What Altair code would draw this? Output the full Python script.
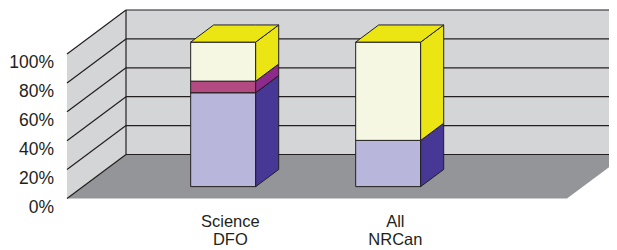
import altair as alt
import pandas as pd

# ---- data ----
categories_line1 = ["Science", "All"]
categories_line2 = ["DFO", "NRCan"]
series_names = ["Series A", "Series B", "Series C"]
series_a = [65, 32]   # lavender (bottom)
series_b = [8, 0]     # magenta (middle)
series_c = [27, 68]   # cream (top)
tick_values = [0, 20, 40, 60, 80, 100]
tick_labels = ["0%", "20%", "40%", "60%", "80%", "100%"]

front_colors = ["#b9b6db", "#b34a82", "#f6f7e2"]
side_colors = ["#463894", "#8e2a8c", "#ebe613"]
top_color = "#ebe613"

# ---- geometry (projection of the 3-D look) ----
PX_Y = 1.445          # px per percent
PX_X = 165.0          # px per category unit
DX = 59 / PX_X        # depth offset in x units
DY = 44 / PX_Y        # depth offset in y units
F_DEPTH, B_DEPTH = 0.27, 0.66
HALF_W = 0.197
CENTERS = [0.85, 1.85]
FLOOR_LEN = 3.03
WALL_RIGHT = 3.4

W, H = 601, 242
x_dom = [(8 - 67) / PX_X, (609 - 67) / PX_X]
y_dom = [(198.5 - 250) / PX_Y, (198.5 - 8) / PX_Y]

xs = alt.Scale(domain=x_dom, nice=False, zero=False)
ys = alt.Scale(domain=y_dom, nice=False, zero=False)

def vquad(rows, key, color, xa, ya0, ya1, xb, yb0, yb1):
    rows.append(dict(k=key, x=xa, y=ya0, y2=ya1, c=color))
    rows.append(dict(k=key, x=xb, y=yb0, y2=yb1, c=color))

# walls and floor
wall_rows = []
vquad(wall_rows, "a0", "#d4d5d7", DX, DY, 100 + DY, WALL_RIGHT, DY, 100 + DY)
vquad(wall_rows, "a1", "#d4d5d7", 0, 0, 100, DX, DY, 100 + DY)
for x, y, y2 in [(0, 0, 0), (DX, 0, DY), (FLOOR_LEN, 0, DY), (FLOOR_LEN + DX, DY, DY)]:
    wall_rows.append(dict(k="a2", x=x, y=y, y2=y2, c="#939598"))
walls = pd.DataFrame(wall_rows)

# gridlines
grid_rows = []
for v in tick_values:
    grid_rows.append(dict(x=0, y=v, x2=DX, y2=v + DY))
    grid_rows.append(dict(x=DX, y=v + DY, x2=WALL_RIGHT, y2=v + DY))
grid_rows.append(dict(x=DX, y=DY, x2=DX, y2=100 + DY))
grid = pd.DataFrame(grid_rows)

# bars
bar_rows = []
n = 0
for ci, cx in enumerate(CENTERS):
    vals = [series_a[ci], series_b[ci], series_c[ci]]
    u0, u1 = cx - HALF_W, cx + HALF_W
    base = 0
    last = max(i for i, v in enumerate(vals) if v > 0)
    for si, v in enumerate(vals):
        if v <= 0:
            continue
        v0, v1 = base, base + v
        base = v1
        f, b = F_DEPTH, B_DEPTH
        # front
        vquad(bar_rows, f"{n:03d}", front_colors[si],
              u0 + f * DX, v0 + f * DY, v1 + f * DY,
              u1 + f * DX, v0 + f * DY, v1 + f * DY)
        n += 1
        # side
        vquad(bar_rows, f"{n:03d}", side_colors[si],
              u1 + f * DX, v0 + f * DY, v1 + f * DY,
              u1 + b * DX, v0 + b * DY, v1 + b * DY)
        n += 1
        # top
        yf, yb = v1 + f * DY, v1 + b * DY
        tc = top_color if si == last else side_colors[si]
        for x, y, y2 in [(u0 + f * DX, yf, yf), (u0 + b * DX, yf, yb),
                         (u1 + f * DX, yf, yb), (u1 + b * DX, yb, yb)]:
            bar_rows.append(dict(k=f"{n:03d}", x=x, y=y, y2=y2, c=tc))
        n += 1
bars = pd.DataFrame(bar_rows)

ylab = pd.DataFrame({"x": [-13 / PX_X] * len(tick_values), "y": tick_values, "t": tick_labels})
xlab = pd.DataFrame({
    "x": [c + 0.14 for c in CENTERS] * 2,
    "y": [(198.5 - 226.5) / PX_Y] * 2 + [(198.5 - 245) / PX_Y] * 2,
    "t": categories_line1 + categories_line2,
})

wall_layer = alt.Chart(walls).mark_area(strokeWidth=0).encode(
    x=alt.X("x:Q", scale=xs, axis=None),
    y=alt.Y("y:Q", scale=ys, axis=None, stack=None),
    y2="y2:Q",
    detail="k:N",
    fill=alt.Fill("c:N", scale=None),
)

grid_layer = alt.Chart(grid).mark_rule(color="#231f20", strokeWidth=1.2).encode(
    x=alt.X("x:Q", scale=xs, axis=None),
    y=alt.Y("y:Q", scale=ys, axis=None),
    x2="x2:Q", y2="y2:Q",
)

bar_layer = alt.Chart(bars).mark_area(stroke="#231f20", strokeWidth=1, strokeJoin="miter").encode(
    x=alt.X("x:Q", scale=xs, axis=None),
    y=alt.Y("y:Q", scale=ys, axis=None, stack=None),
    y2="y2:Q",
    detail="k:N",
    fill=alt.Fill("c:N", scale=None),
)

ylab_layer = alt.Chart(ylab).mark_text(
    align="right", baseline="middle", dy=9, font="Liberation Sans", fontSize=17.5, color="#231f20"
).encode(
    x=alt.X("x:Q", scale=xs, axis=None),
    y=alt.Y("y:Q", scale=ys, axis=None),
    text="t:N",
)

xlab_layer = alt.Chart(xlab).mark_text(
    align="center", baseline="alphabetic",
    font="Liberation Sans", fontSize=16.5, color="#231f20"
).encode(
    x=alt.X("x:Q", scale=xs, axis=None),
    y=alt.Y("y:Q", scale=ys, axis=None),
    text="t:N",
)

chart = alt.layer(wall_layer, grid_layer, bar_layer, ylab_layer, xlab_layer).properties(
    width=W, height=H, padding=0, autosize=alt.AutoSizeParams(type="none"),
    background="white",
).configure_view(stroke=None)

chart.save("out.html", embed_options={"renderer": "svg", "actions": False})
